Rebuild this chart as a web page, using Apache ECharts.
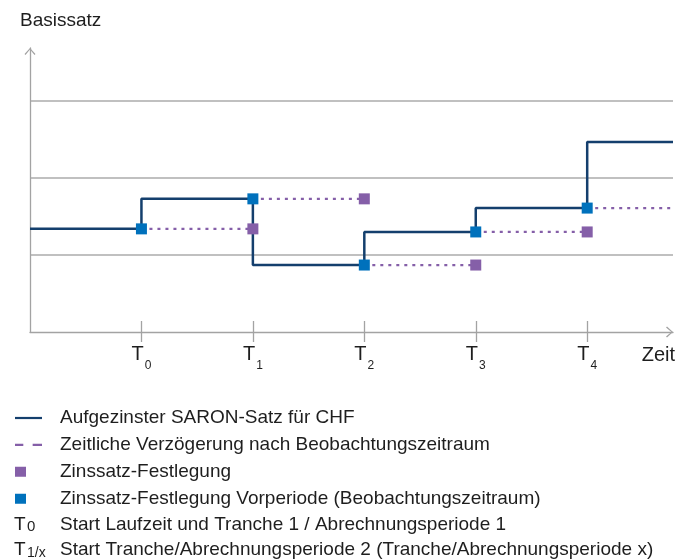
<!DOCTYPE html>
<html>
<head>
<meta charset="utf-8">
<title>Basissatz</title>
<script src="https://cdn.jsdelivr.net/npm/echarts@6/dist/echarts.min.js"></script>
<style>
  html, body { margin: 0; padding: 0; background: #fff; }
  #chart { width: 691px; height: 560px; }
</style>
</head>
<body>
<div id="chart"></div>
<script>
// Zeitachse: T0..T4
const tTicks = [1, 2, 3, 4, 5];
const tSubs = ["0", "1", "2", "3", "4"];
const xEnd = 5.77;
const yEnd = 3.69;

// Aufgezinster SARON-Satz (Stufe jeweils am Ende)
const saronX = [0, 1, 2, 3, 4, 5, 5.77];
const saronY = [1.34, 1.73, 0.87, 1.3, 1.61, 2.47, 2.47];

// Festlegung Vorperiode (blau) und Festlegung (lila)
const priorFixX = [1, 2, 3, 4, 5];
const priorFixY = [1.34, 1.73, 0.87, 1.3, 1.61];
const fixX = [2, 3, 4, 5];
const fixY = [1.34, 1.73, 0.87, 1.3];
// Ende der gepunkteten Verzögerung
const delayEndX = [2, 3, 4, 5, 5.77];

const seriesNames = [
  "Aufgezinster SARON-Satz für CHF",
  "Zeitliche Verzögerung nach Beobachtungszeitraum",
  "Zinssatz-Festlegung",
  "Zinssatz-Festlegung Vorperiode (Beobachtungszeitraum)"
];

const FONT = '"Liberation Sans", Arial, sans-serif';
const TEXT = "#1e1e1e";
const AXIS = "#a3a3a3";
const NAVY = "#143f6d";
const BLUE = "#0071bc";
const PURPLE = "#855fa8";

// offener Pfeil (Spitze oben)
const chevron = "path://M0,6 L5.5,0 L11,6 L10,7 L5.5,1.6 L1,7 Z";

const saronData = saronX.map((x, i) => [x, saronY[i]]);
const delayData = [];
priorFixX.forEach((x, i) => {
  delayData.push([x, priorFixY[i]], [delayEndX[i], priorFixY[i]], [delayEndX[i], "-"]);
});

const chart = echarts.init(document.getElementById("chart"));

chart.setOption({
  animation: false,
  textStyle: { fontFamily: FONT },
  title: {
    text: "Basissatz",
    left: 20,
    top: 11,
    padding: 0,
    textStyle: { fontSize: 19, fontWeight: "normal", color: TEXT, fontFamily: FONT }
  },
  grid: { left: 30, right: 18, top: 48, bottom: 228 },
  legend: {
    orient: "vertical",
    left: 15,
    top: 408,
    padding: 0,
    itemGap: 6.9,
    itemWidth: 27,
    itemHeight: 10,
    selectedMode: false,
    itemStyle: { borderWidth: 0, opacity: 1 },
    textStyle: { fontSize: 19, color: TEXT, lineHeight: 20, padding: [0, 0, 0, 13], fontFamily: FONT },
    data: [
      { name: seriesNames[0], icon: "path://M0,0H27V2.2H0Z" },
      { name: seriesNames[1], icon: "path://M0,0H8V2.2H0ZM17,0H26V2.2H17Z" },
      { name: seriesNames[2], icon: "path://M0,0H11V10H0ZM27,0L27,0.01L26.99,0.01Z" },
      { name: seriesNames[3], icon: "path://M0,0H11V10H0ZM27,0L27,0.01L26.99,0.01Z" }
    ]
  },
  xAxis: [
    {
      type: "value",
      min: 0,
      max: xEnd,
      interval: 1,
      name: "Zeit",
      nameLocation: "end",
      nameGap: 2,
      nameTextStyle: { fontSize: 20, color: TEXT, align: "right", verticalAlign: "top", padding: [13, 0, 0, 0] },
      axisLine: {
        lineStyle: { color: AXIS, width: 1.3 },
        symbol: ["none", chevron],
        symbolSize: [11, 7],
        symbolOffset: [0, -3.5]
      },
      axisTick: { customValues: tTicks, length: 10, lineStyle: { color: AXIS, width: 1.3 } },
      axisLabel: {
        customValues: tTicks,
        margin: 12,
        formatter: v => "{t|T}{s|" + tSubs[tTicks.indexOf(Math.round(v))] + "}",
        rich: {
          t: { fontSize: 20, lineHeight: 22, verticalAlign: "top", color: TEXT, fontFamily: FONT },
          s: { fontSize: 12, lineHeight: 12, padding: [16, 0, 0, 1], verticalAlign: "top", color: TEXT, fontFamily: FONT }
        }
      },
      splitLine: { show: false }
    },
    {
      type: "value",
      min: 0,
      max: xEnd,
      interval: 1,
      position: "bottom",
      axisLine: { show: false },
      axisTick: { customValues: tTicks, inside: true, length: 11, lineStyle: { color: AXIS, width: 1.3 } },
      axisLabel: { show: false },
      splitLine: { show: false }
    }
  ],
  yAxis: {
    type: "value",
    min: 0,
    max: yEnd,
    interval: 1,
    axisLine: {
      show: true,
      lineStyle: { color: AXIS, width: 1.3 },
      symbol: ["none", chevron],
      symbolSize: [11, 7],
      symbolOffset: [0, -3.5]
    },
    axisTick: { show: false },
    axisLabel: { show: false },
    splitLine: { show: true, showMinLine: false, showMaxLine: false, lineStyle: { color: "#ababab", width: 1.6 } }
  },
  graphic: [
    { type: "text", x: 14, y: 525, style: { text: "T", fill: TEXT, font: "19px " + FONT, verticalAlign: "middle" } },
    { type: "text", x: 27, y: 527, style: { text: "0", fill: TEXT, font: "15px " + FONT, verticalAlign: "middle" } },
    { type: "text", x: 60, y: 525, style: { text: "Start Laufzeit und Tranche 1 / Abrechnungsperiode 1", fill: TEXT, font: "19px " + FONT, verticalAlign: "middle" } },
    { type: "text", x: 14, y: 549.5, style: { text: "T", fill: TEXT, font: "19px " + FONT, verticalAlign: "middle" } },
    { type: "text", x: 27, y: 553.5, style: { text: "1/x", fill: TEXT, font: "14px " + FONT, verticalAlign: "middle" } },
    { type: "text", x: 60, y: 549.5, style: { text: "Start Tranche/Abrechnungsperiode 2 (Tranche/Abrechnungsperiode x)", fill: TEXT, font: "19px " + FONT, verticalAlign: "middle" } }
  ],
  series: [
    {
      name: seriesNames[0],
      type: "line",
      step: "end",
      data: saronData,
      showSymbol: false,
      color: NAVY,
      lineStyle: { color: NAVY, width: 2.5 },
      z: 2
    },
    {
      name: seriesNames[1],
      type: "line",
      data: delayData,
      showSymbol: false,
      connectNulls: false,
      color: PURPLE,
      lineStyle: { color: PURPLE, width: 2.2, type: [3, 5] },
      z: 2
    },
    {
      name: seriesNames[2],
      type: "scatter",
      symbol: "rect",
      symbolSize: 11,
      data: fixX.map((x, i) => [x, fixY[i]]),
      itemStyle: { color: PURPLE, opacity: 1 },
      z: 3
    },
    {
      name: seriesNames[3],
      type: "scatter",
      symbol: "rect",
      symbolSize: 11,
      data: priorFixX.map((x, i) => [x, priorFixY[i]]),
      itemStyle: { color: BLUE, opacity: 1 },
      z: 4
    }
  ]
});
</script>
</body>
</html>
